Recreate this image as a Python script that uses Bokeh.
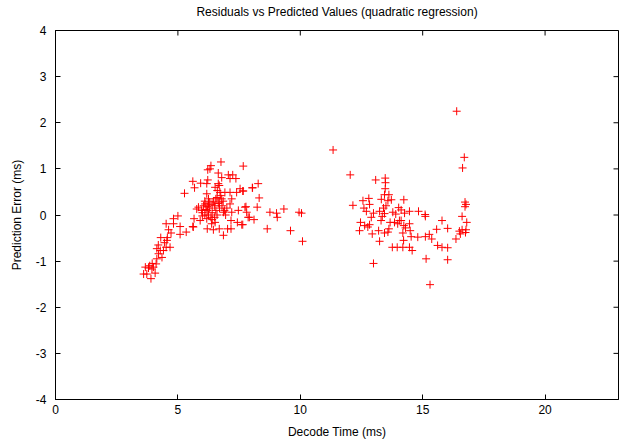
import math
from bokeh.plotting import figure
from bokeh.models import FixedTicker, Range1d, ColumnDataSource
from bokeh.embed import file_html
from bokeh.resources import INLINE

title_text = "Residuals vs Predicted Values (quadratic regression)"
x_label = "Decode Time (ms)"
y_label = "Prediction Error (ms)"
x_ticks = [0, 5, 10, 15, 20]
y_ticks = [-4, -3, -2, -1, 0, 1, 2, 3, 4]
x_min, x_max = 0, 23
y_min, y_max = -4, 4

# lower-left arm
arm_x = [3.60, 3.73, 3.90, 3.67, 3.80, 3.94, 4.00, 4.07, 3.85, 3.95, 4.11, 4.14, 4.21, 4.35, 4.28, 4.14, 4.41,
         4.52, 4.68, 4.55, 4.57, 4.30, 4.72, 5.09, 5.34, 4.52, 4.82, 5.09, 4.82, 5.00, 5.61, 4.45, 4.20, 4.62]
arm_y = [-1.28, -1.28, -1.38, -1.13, -1.15, -1.17, -1.13, -1.26, -1.10, -1.05, -1.06, -0.95, -0.84, -0.92, -0.77, -0.73, -0.77,
         -0.70, -0.70, -0.55, -0.49, -0.49, -0.39, -0.42, -0.37, -0.19, -0.19, -0.25, -0.08, -0.02, -0.25, -0.60, -0.65, -0.32]

# upper part of left cluster
up_x = [5.27, 5.61, 5.68, 5.93, 6.18, 6.22, 6.22, 6.31, 6.35, 6.76, 7.67, 6.65, 6.79, 7.06, 7.24, 7.13, 7.37, 6.65,
        6.52, 6.61, 6.69, 6.72, 6.92, 7.13, 7.40, 7.54, 7.67, 8.05, 8.28, 8.32, 7.20, 6.79, 6.69, 6.18, 6.25, 6.25,
        6.11, 5.84, 5.97, 5.77, 8.04, 7.65, 7.78]
up_y = [0.47, 0.73, 0.59, 0.69, 0.68, 0.76, 0.98, 1.00, 1.07, 1.15, 1.06, 0.91, 0.81, 0.87, 0.87, 0.79, 0.79, 0.68,
        0.60, 0.53, 0.64, 0.49, 0.49, 0.49, 0.49, 0.57, 0.52, 0.59, 0.68, 0.37, 0.35, 0.35, 0.28, 0.46, 0.35, 0.24,
        0.24, 0.17, 0.10, 0.13, 0.59, 0.52, 0.18]

# middle / lower part of left cluster
mid_x = [7.13, 7.20, 6.86, 7.47, 7.74, 7.81, 8.24, 8.11, 7.87, 7.61, 7.43, 7.17, 7.03, 7.17, 6.86, 6.69, 6.45, 6.20,
         6.38, 6.52, 6.18, 5.91, 5.63, 5.66, 7.65, 7.92, 8.65]
mid_y = [0.24, 0.06, 0.06, 0.10, 0.17, 0.06, 0.17, -0.10, -0.05, -0.21, -0.16, -0.12, -0.30, -0.30, -0.44, -0.30, -0.32, -0.30,
         -0.19, -0.16, -0.08, -0.12, -0.26, -0.08, -0.21, -0.05, -0.30]

# dense core of left cluster
core_x = [6.00, 6.10, 6.20, 6.30, 6.40, 6.50, 6.55, 6.60, 6.35, 6.25, 6.45, 6.70, 6.80, 6.90, 6.05, 6.15, 6.30, 6.60,
          6.75, 6.85, 6.40, 6.00, 6.95, 7.00, 6.50, 6.65, 6.20, 6.40, 6.55, 6.10]
core_y = [0.05, 0.00, 0.10, 0.15, 0.05, 0.20, 0.10, 0.00, -0.05, 0.00, 0.30, 0.15, 0.20, 0.10, 0.20, 0.12, 0.28, 0.38,
          0.42, 0.30, -0.10, -0.02, 0.00, 0.15, -0.05, 0.25, 0.18, 0.22, 0.35, 0.30]

# sparse points between clusters
gap_x = [8.76, 9.03, 9.06, 9.33, 9.95, 10.05, 9.60, 10.09, 11.34, 12.04]
gap_y = [0.06, 0.04, -0.05, 0.13, 0.06, 0.04, -0.34, -0.57, 1.41, 0.87]

# right cluster
right_x = [13.08, 13.47, 13.48, 13.47, 13.44, 13.62, 13.31, 13.58, 13.72, 14.23, 12.56, 12.80, 12.83, 12.15, 12.60,
           12.70, 12.99, 13.24, 13.35, 13.44, 13.78, 14.02, 14.12, 14.26, 14.46, 14.83, 15.10, 15.11, 12.46, 12.63,
           12.76, 12.83, 12.42, 12.94, 13.20, 13.44, 13.58, 13.62, 13.67, 13.85, 13.98, 14.12, 14.23, 14.30, 14.46,
           14.49, 14.19, 14.53, 14.80, 15.11, 15.27, 15.37, 13.24, 14.22, 13.76, 13.96, 14.19, 14.46, 14.57, 12.99,
           15.14, 15.30, 15.57, 15.79, 16.02, 15.61, 15.79, 16.02, 16.02, 16.36, 16.54, 16.61, 16.77, 16.80, 16.61,
           16.70, 16.63, 16.73, 16.77, 16.73, 16.39, 13.50, 13.40, 13.90, 13.30, 12.90, 14.05, 16.50, 16.75]
right_y = [0.76, 0.80, 0.70, 0.57, 0.44, 0.44, 0.34, 0.31, 0.33, 0.33, 0.31, 0.36, 0.23, 0.21, 0.15,
           0.08, 0.04, 0.08, -0.03, 0.03, 0.06, 0.16, 0.11, 0.04, 0.08, 0.08, 0.01, -0.03, -0.16, -0.23,
           -0.26, -0.21, -0.34, -0.41, -0.34, -0.39, -0.37, -0.30, -0.16, -0.16, -0.19, -0.12, -0.23, -0.28, -0.19,
           -0.34, -0.39, -0.47, -0.48, -0.47, -0.42, -0.52, -0.57, -0.55, -0.70, -0.70, -0.70, -0.70, -0.77, -1.05,
           -0.95, -1.51, -0.31, -0.12, -0.29, -0.66, -0.70, -0.71, -0.97, -0.52, -0.41, -0.32, -0.32, -0.16, -0.03,
           1.25, 1.02, 0.28, 0.23, 0.18, 2.25, 0.20, 0.15, 0.02, -0.12, -0.05, -0.12, -0.35, -0.38]

xs = arm_x + up_x + mid_x + core_x + gap_x + right_x
ys = arm_y + up_y + mid_y + core_y + gap_y + right_y
src = ColumnDataSource(data=dict(x=xs, y=ys))

FONT = "Liberation Sans"

p = figure(frame_width=563, frame_height=369,
           x_range=Range1d(x_min, x_max), y_range=Range1d(y_min, y_max),
           output_backend="svg", toolbar_location=None, title=title_text,
           min_border_left=0, min_border_right=5, min_border_top=0, min_border_bottom=0,
           margin=(-5, 0, 0, 6))

p.title.align = "center"
p.title.vertical_align = "top"
p.title.text_font = FONT
p.title.text_font_size = "12px"
p.title.text_font_style = "normal"
p.title.text_color = "black"
p.title.standoff = 19

p.grid.visible = False
p.outline_line_color = "black"
p.outline_line_width = 1
p.background_fill_color = "white"
p.border_fill_color = "white"

p.xaxis.ticker = FixedTicker(ticks=x_ticks)
p.yaxis.ticker = FixedTicker(ticks=y_ticks)
p.xaxis.major_label_overrides = {t: str(t) for t in x_ticks}
p.yaxis.major_label_overrides = {t: str(t) for t in y_ticks}
for ax in (p.xaxis, p.yaxis):
    ax.major_tick_in = 5
    ax.major_tick_out = 0
    ax.minor_tick_line_color = None
    ax.axis_line_color = "black"
    ax.major_label_text_font = FONT
    ax.major_label_text_font_size = "12px"
    ax.major_label_text_color = "black"
    ax.axis_label_text_font = FONT
    ax.axis_label_text_font_size = "12px"
    ax.axis_label_text_font_style = "normal"
    ax.axis_label_text_color = "black"
p.xaxis.axis_label = x_label
p.yaxis.axis_label = y_label
p.xaxis.major_label_standoff = 5
p.xaxis.axis_label_standoff = 8
p.yaxis.major_label_standoff = 9
p.yaxis.axis_label_standoff = 9

# mirrored inward ticks on the top and right edges (clipped to the frame)
p.scatter(x=x_ticks, y=[y_max] * len(x_ticks), marker="dash", angle=math.pi / 2,
          size=10, line_color="black", line_width=1)
p.scatter(x=[x_max] * len(y_ticks), y=y_ticks, marker="dash", angle=0,
          size=10, line_color="black", line_width=1)

p.scatter("x", "y", source=src, marker="cross", size=8, line_color="red", line_width=1)

open("out.html", "w").write(file_html(p, INLINE))
